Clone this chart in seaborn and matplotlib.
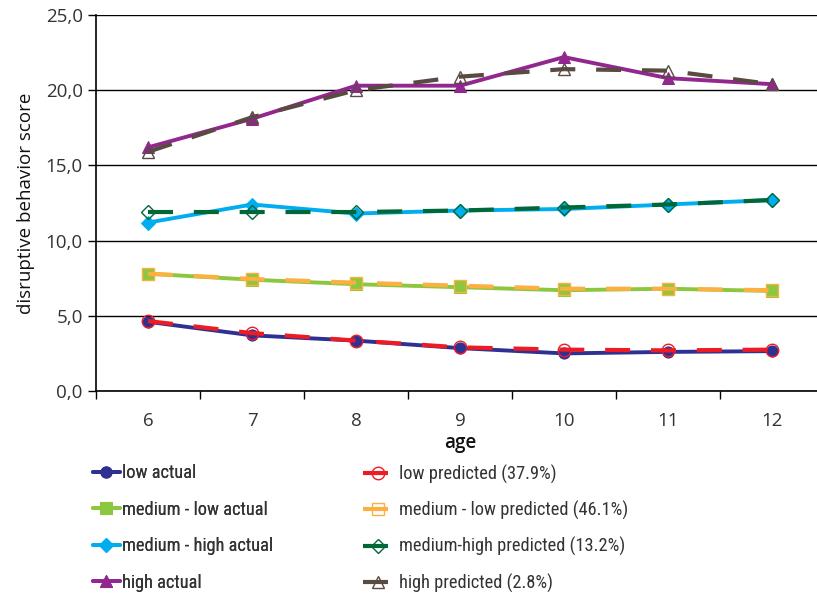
import matplotlib
matplotlib.use("Agg")
import matplotlib.pyplot as plt
import matplotlib.ticker as mticker
import seaborn as sns

ages = [6, 7, 8, 9, 10, 11, 12]

low_actual = [4.6, 3.7, 3.35, 2.85, 2.5, 2.6, 2.65]
low_predicted = [4.65, 3.85, 3.35, 2.9, 2.75, 2.7, 2.75]
medlow_actual = [7.8, 7.4, 7.1, 6.9, 6.7, 6.8, 6.65]
medlow_predicted = [7.8, 7.45, 7.2, 7.0, 6.8, 6.8, 6.7]
medhigh_actual = [11.2, 12.4, 11.8, 12.0, 12.1, 12.4, 12.7]
medhigh_predicted = [11.9, 11.9, 11.9, 12.0, 12.2, 12.4, 12.7]
high_actual = [16.2, 18.1, 20.3, 20.3, 22.2, 20.8, 20.4]
high_predicted = [15.9, 18.2, 20.0, 20.9, 21.4, 21.3, 20.4]

actual_labels = ["low actual", "medium - low actual", "medium - high actual", "high actual"]
predicted_labels = ["low predicted (37.9%)", "medium - low predicted (46.1%)",
                    "medium-high predicted (13.2%)", "high predicted (2.8%)"]

sns.set_style("white")
plt.rcParams["font.family"] = ["Open Sans", "DejaVu Sans"]

fig = plt.figure(figsize=(8.17, 5.95), dpi=100)
ax = fig.add_axes([96 / 817, 1 - 391 / 595, 728 / 817, 376 / 595])

actual = [
    (low_actual, "#2e3192", "o"),
    (medlow_actual, "#8dc63f", "s"),
    (medhigh_actual, "#00aeef", "D"),
    (high_actual, "#92278f", "^"),
]
predicted = [
    (low_predicted, "#ed1c24", "o"),
    (medlow_predicted, "#fbb040", "s"),
    (medhigh_predicted, "#006838", "D"),
    (high_predicted, "#594a42", "^"),
]

h_act = []
for (vals, col, mk), lab in zip(actual, actual_labels):
    sns.lineplot(x=ages, y=vals, ax=ax, color=col, marker=mk, markersize=8 if mk != "D" else 7,
                 markeredgecolor=col, linewidth=2.8, label=lab, legend=False, zorder=3)
    h_act.append(ax.lines[-1])

h_pred = []
for (vals, col, mk), lab in zip(predicted, predicted_labels):
    sns.lineplot(x=ages, y=vals, ax=ax, color=col, marker=mk, markersize=9 if mk != "D" else 7,
                 markerfacecolor="none", markeredgecolor=col, markeredgewidth=1.0,
                 linewidth=3.0, label=lab, legend=False, zorder=4)
    line = ax.lines[-1]
    line.set_dashes((6, 5))
    h_pred.append(line)

ax.set_xlim(5.5, 12.5)
ax.set_ylim(0, 25)
ax.xaxis.set_major_locator(mticker.FixedLocator([5.5 + i for i in range(8)]))
ax.xaxis.set_major_formatter(mticker.NullFormatter())
ax.xaxis.set_minor_locator(mticker.FixedLocator(ages))
ax.xaxis.set_minor_formatter(mticker.FixedFormatter([str(a) for a in ages]))
ax.tick_params(axis="x", which="major", length=6, width=1, color="black", direction="out", bottom=True)
ax.tick_params(axis="x", which="minor", length=0, labelsize=13.5, labelcolor="#333333", pad=15)
ax.set_yticks([0, 5, 10, 15, 20, 25])
ax.yaxis.set_major_formatter(mticker.FuncFormatter(lambda v, p: f"{v:.1f}".replace(".", ",")))
ax.tick_params(axis="y", length=6, width=1, color="black", direction="out", left=True,
               labelsize=13.5, labelcolor="#333333")
ax.grid(True, axis="y", color="black", linewidth=1)
ax.set_axisbelow(True)

for s in ["top", "right"]:
    ax.spines[s].set_visible(False)
for s in ["left", "bottom"]:
    ax.spines[s].set_color("black")
    ax.spines[s].set_linewidth(1.2)

ax.set_xlabel("age", fontsize=13.5, color="#111111", fontweight="semibold", labelpad=2)
ax.set_ylabel("disruptive behavior score", fontsize=13.5, color="#111111", labelpad=8)

leg_font = {"family": ["Roboto Condensed", "Roboto", "DejaVu Sans"], "size": 13.2}
leg1 = fig.legend(handles=h_act, labels=actual_labels, loc="upper left",
                  bbox_to_anchor=(76 / 817, 1 - 448 / 595), frameon=False, prop=leg_font,
                  handlelength=1.5, handletextpad=0.1, labelspacing=1.0,
                  labelcolor="#333333")
leg2 = fig.legend(handles=h_pred, labels=predicted_labels, loc="upper left",
                  bbox_to_anchor=(346 / 817, 1 - 448 / 595), frameon=False, prop=leg_font,
                  handlelength=1.7, handletextpad=0.3, labelspacing=0.94,
                  labelcolor="#333333")
fig.add_artist(leg1)

fig.savefig("out.png", dpi=100)
